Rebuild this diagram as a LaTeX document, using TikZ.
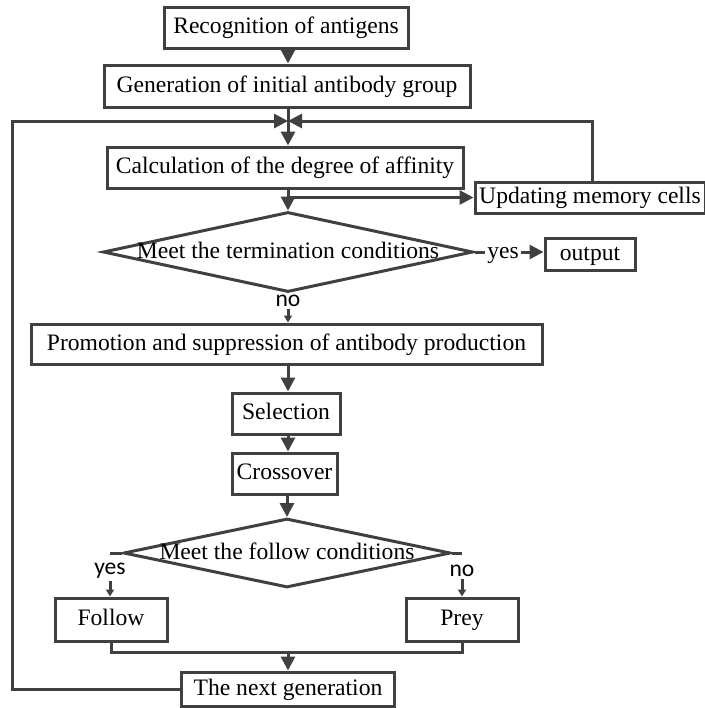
\documentclass[tikz,border=0pt]{standalone}
\usepackage{fontspec}
\setmainfont{Liberation Serif}
\newfontfamily\lblfont{Carlito}
\usetikzlibrary{arrows.meta,shapes.geometric}
\definecolor{linegray}{RGB}{64,64,64}
\tikzset{
  box/.style 2 args={draw=linegray, line width=1.5pt, inner sep=0pt,
    minimum width=#1*0.5pt, minimum height=#2*0.5pt,
    text height=0.85em, text depth=0.21em,
    font=\fontsize{11.8}{14}\selectfont},
  dia/.style 2 args={draw=linegray, line width=1.5pt, diamond, inner sep=0pt,
    minimum width=#1*0.5pt, minimum height=#2*0.5pt},
  txt/.style={inner sep=1pt, text height=0.85em, text depth=0.21em,
    font=\fontsize{11.8}{14}\selectfont},
  lbl/.style={inner sep=1pt, font=\fontsize{11.8}{14}\lblfont},
  ln/.style={draw=linegray, line width=1.5pt},
  arr/.style={ln, -{Triangle[length=7pt,width=7pt]}},
  sarr/.style={ln, -{Triangle[length=3.5pt,width=4pt]}}
}

\begin{document}
\begin{tikzpicture}[x=0.5pt,y=-0.5pt]
\useasboundingbox (0,0) rectangle (705,708);

\node[box={244}{41}] (rec) at (286,27.5) {Recognition of antigens};
\node[box={366}{42}] (gen) at (287,86) {Generation of initial antibody group};
\coordinate (jn) at (288,121);
\coordinate (lc) at (12,121);
\coordinate (rc) at (592,121);
\node[box={356}{41}] (calc) at (285,167.5) {Calculation of the degree of affinity};
\node[box={230}{31}] (upd) at (590,197.5) {Updating memory cells};
\node[dia={370}{80}] (term) at (288,252) {};
\node[txt] (termtxt) at (term) {Meet the termination conditions};
\node[box={90}{32}] (out) at (590,254) {output};
\node[lbl] (no1) at (288,301) {no};
\node[box={511}{40}] (promo) at (286.5,344) {Promotion and suppression of antibody production};
\node[box={108}{41}] (sel) at (286,413.5) {Selection};
\node[box={105}{41}] (cross) at (284.5,473.5) {Crossover};
\node[dia={327}{69}] (fdia) at (287,553) {};
\node[txt] (fdiatxt) at (fdia) {Meet the follow conditions};
\coordinate (fl) at (110,553);
\coordinate (fr) at (462,553);
\node[lbl] (yes2) at (110,571) {yes};
\node[lbl] (no2) at (462,571) {no};
\node[box={112}{43}] (fol) at (111,619.5) {Follow};
\node[box={112}{43}] (prey) at (462,619.5) {Prey};
\coordinate (mg) at (288,652);
\node[box={213}{34}] (next) at (288,689) {The next generation};

\draw[arr] (rec.south -| jn) -- (jn |- gen.north);
\draw[arr] (jn |- gen.south) -- (jn |- calc.north);
\draw[arr] (next.west) -| (lc) -- (jn);
\draw[arr] (upd.north -| rc) -- (rc) -- (jn);
\draw[arr] (term.north |- calc.south) -- (term.north);
\draw[arr] (term.north |- upd.west) -- (upd.west);
\draw[arr] (term.east) -- node[txt, fill=white, xshift=-3pt] {yes} (term.east -| out.west);
\draw[sarr] (no1.south) -- (no1.south |- promo.north);
\draw[arr] (promo.south -| jn) -- (jn |- sel.north);
\draw[arr] (sel.south -| jn) -- (jn |- cross.north);
\draw[arr] (cross.south -| fdia.north) -- (fdia.north);
\draw[ln] (fdia.west) -- (fl);
\draw[ln] (fdia.east) -- (fr);
\draw[sarr] (yes2.south) -- (yes2.south |- fol.north);
\draw[sarr] (no2.south) -- (no2.south |- prey.north);
\draw[ln] (fol.south) |- (mg) -| (prey.south);
\draw[arr] (mg) -- (next.north);

\end{tikzpicture}
\end{document}
